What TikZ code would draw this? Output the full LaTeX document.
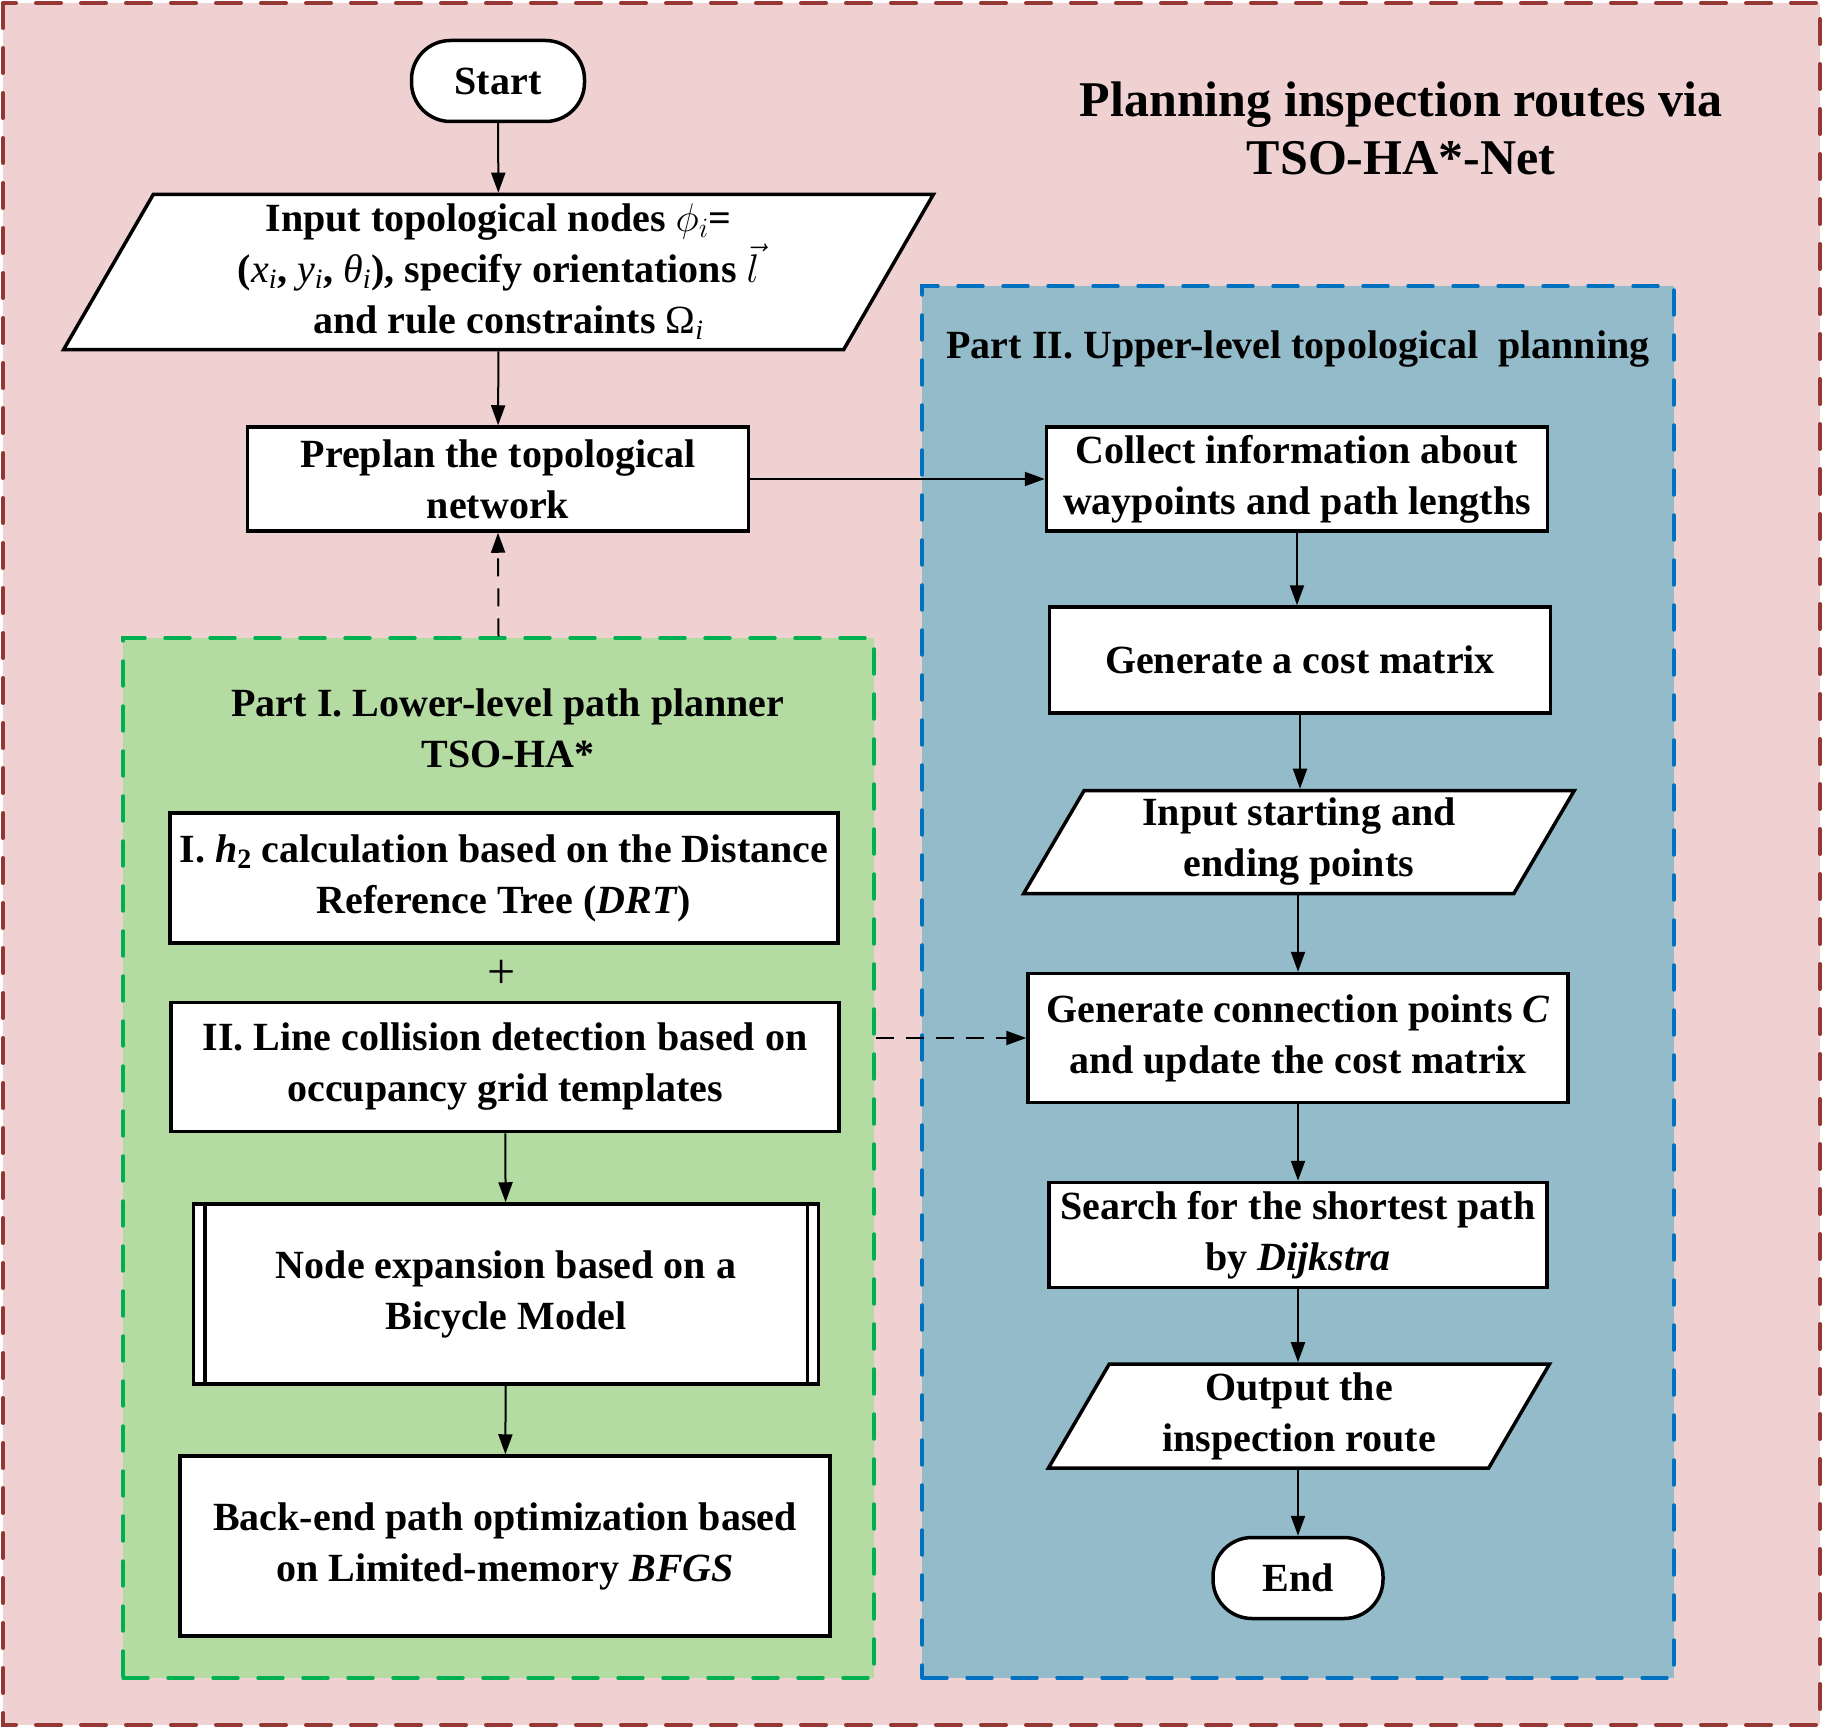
\documentclass[tikz,border=0pt]{standalone}
\usepackage{fix-cm}
\usepackage{fontspec}
\setmainfont{Liberation Serif}
\usetikzlibrary{shapes.geometric,arrows.meta}

\definecolor{fundo}{RGB}{238,209,208}
\definecolor{bordafundo}{RGB}{149,55,53}
\definecolor{verde}{RGB}{179,219,162}
\definecolor{bordaverde}{RGB}{0,176,80}
\definecolor{azul}{RGB}{147,187,202}
\definecolor{bordaazul}{RGB}{0,112,192}

\tikzset{
    texto/.style={font=\bfseries\fontsize{40}{51}\selectfont, align=center, inner sep=2pt},
    caixa/.style={texto, draw, line width=3.5pt, fill=white, rectangle},
    terminal/.style={caixa, rounded corners=39pt},
    dados/.style={texto, draw, line width=3.5pt, fill=white, trapezium, trapezium stretches=true,
        trapezium left angle=64, trapezium right angle=116},
    seta/.style={-{Triangle[length=20pt,width=14pt]}, line width=2pt},
    tracejada/.style={seta, dash pattern=on 18pt off 12pt},
    moldura/.style={line width=3.4pt, dash pattern=on 25pt off 20pt, line cap=round, inner sep=0pt}
}

\newcommand{\mv}[1]{{\mdseries\itshape #1}}

\begin{document}
\begin{tikzpicture}[x=1pt, y=-1pt]

        \useasboundingbox (0,0) rectangle (1823,1728);
        \fill[white] (0,0) rectangle (1823,1728);

        % fundo
        \draw[moldura, draw=bordafundo, fill=fundo, line width=4pt] (3,3) rectangle (1820,1725);

        % as duas partes
        \node[moldura, draw=bordaverde, fill=verde, minimum width=751pt, minimum height=1040pt] (partI) at (498.5,1158) {};
        \node[moldura, draw=bordaazul, fill=azul, minimum width=752pt, minimum height=1392pt] (partII) at (1298,982) {};

        \node[texto, font=\bfseries\fontsize{50}{58}\selectfont] (titulo) at (1401,128) {Planning inspection routes via\\TSO-HA*-Net};
        \node[texto] (titleI) at (508,728) {Part I. Lower-level path planner\\TSO-HA*};
        \node[texto] (titleII) at (1298,349) {Part II. Upper-level topological\ \ planning};

        % coluna da esquerda
        \node[terminal, minimum width=173pt, minimum height=81pt] (start) at (498,81) {Start};
        \node[dados, minimum width=870pt, minimum height=155pt] (inputNodes) at (498.5,272)
            {Input topological nodes $\phi_i$=\\
             (\mv{x\textsubscript{i}},\ \mv{y\textsubscript{i}},\ \mv{θ\textsubscript{i}}), specify orientations\ $\vec{l}$\\
             \ \ and rule constraints {\mdseries Ω\textsubscript{\itshape i}}};
        \node[caixa, minimum width=501pt, minimum height=104pt] (preplan) at (498,479) {Preplan the topological\\network};

        \node[caixa, minimum width=668pt, minimum height=130pt] (hCalc) at (504,878)
            {I. \textit{h}\textsubscript{2} calculation based on the Distance\\Reference Tree (\textit{DRT})};
        \node[texto, font=\fontsize{50}{51}\selectfont] (mais) at (502,974) {+};
        \node[caixa, minimum width=668pt, minimum height=129pt] (lineColl) at (505,1067)
            {II. Line collision detection based on\\occupancy grid templates};
        \node[caixa, minimum width=625pt, minimum height=180pt] (nodeExp) at (506,1294)
            {Node expansion based on a\\Bicycle Model};
        \draw[line width=3.5pt] ([xshift=13pt]nodeExp.north west) -- ([xshift=13pt]nodeExp.south west);
        \draw[line width=3.5pt] ([xshift=-13pt]nodeExp.north east) -- ([xshift=-13pt]nodeExp.south east);
        \node[caixa, minimum width=650pt, minimum height=180pt] (backEnd) at (505,1546)
            {Back-end path optimization based\\on Limited-memory \textit{BFGS}};

        % coluna da direita
        \node[caixa, minimum width=501pt, minimum height=104pt] (collect) at (1297,479)
            {Collect information about\\waypoints and path lengths};
        \node[caixa, minimum width=501pt, minimum height=106pt] (costMatrix) at (1300,660)
            {Generate a cost matrix};
        \node[dados, minimum width=551pt, minimum height=103pt] (inputPoints) at (1299,842)
            {Input starting and\\ending points};
        \node[caixa, minimum width=540pt, minimum height=129pt] (connPoints) at (1298,1038)
            {Generate connection points \textit{C}\\and update the cost matrix};
        \node[caixa, minimum width=498pt, minimum height=105pt] (search) at (1298,1235)
            {Search for the shortest path\\by \textit{Dijkstra}};
        \node[dados, minimum width=503pt, minimum height=104pt] (output) at (1299,1416)
            {Output the\\inspection route};
        \node[terminal, minimum width=170pt, minimum height=81pt] (finish) at (1298,1578) {End};

        % setas
        \draw[seta] (start) -- (inputNodes);
        \draw[seta] (inputNodes) -- (preplan);
        \draw[seta] (preplan) -- (collect);
        \draw[tracejada] (partI.north) -- (preplan.south);
        \draw[seta] (lineColl) -- (nodeExp);
        \draw[seta] (nodeExp) -- (backEnd);
        \draw[tracejada] (connPoints.west -| partI.east) -- (connPoints.west);

        \draw[seta] (collect) -- (collect |- costMatrix.north);
        \draw[seta] (costMatrix) -- (costMatrix |- inputPoints.north);
        \draw[seta] (inputPoints.south -| connPoints) -- (connPoints);
        \draw[seta] (connPoints) -- (search);
        \draw[seta] (search) -- (search |- output.north);
        \draw[seta] (output.south -| finish) -- (finish);
    \end{tikzpicture}
\end{document}
